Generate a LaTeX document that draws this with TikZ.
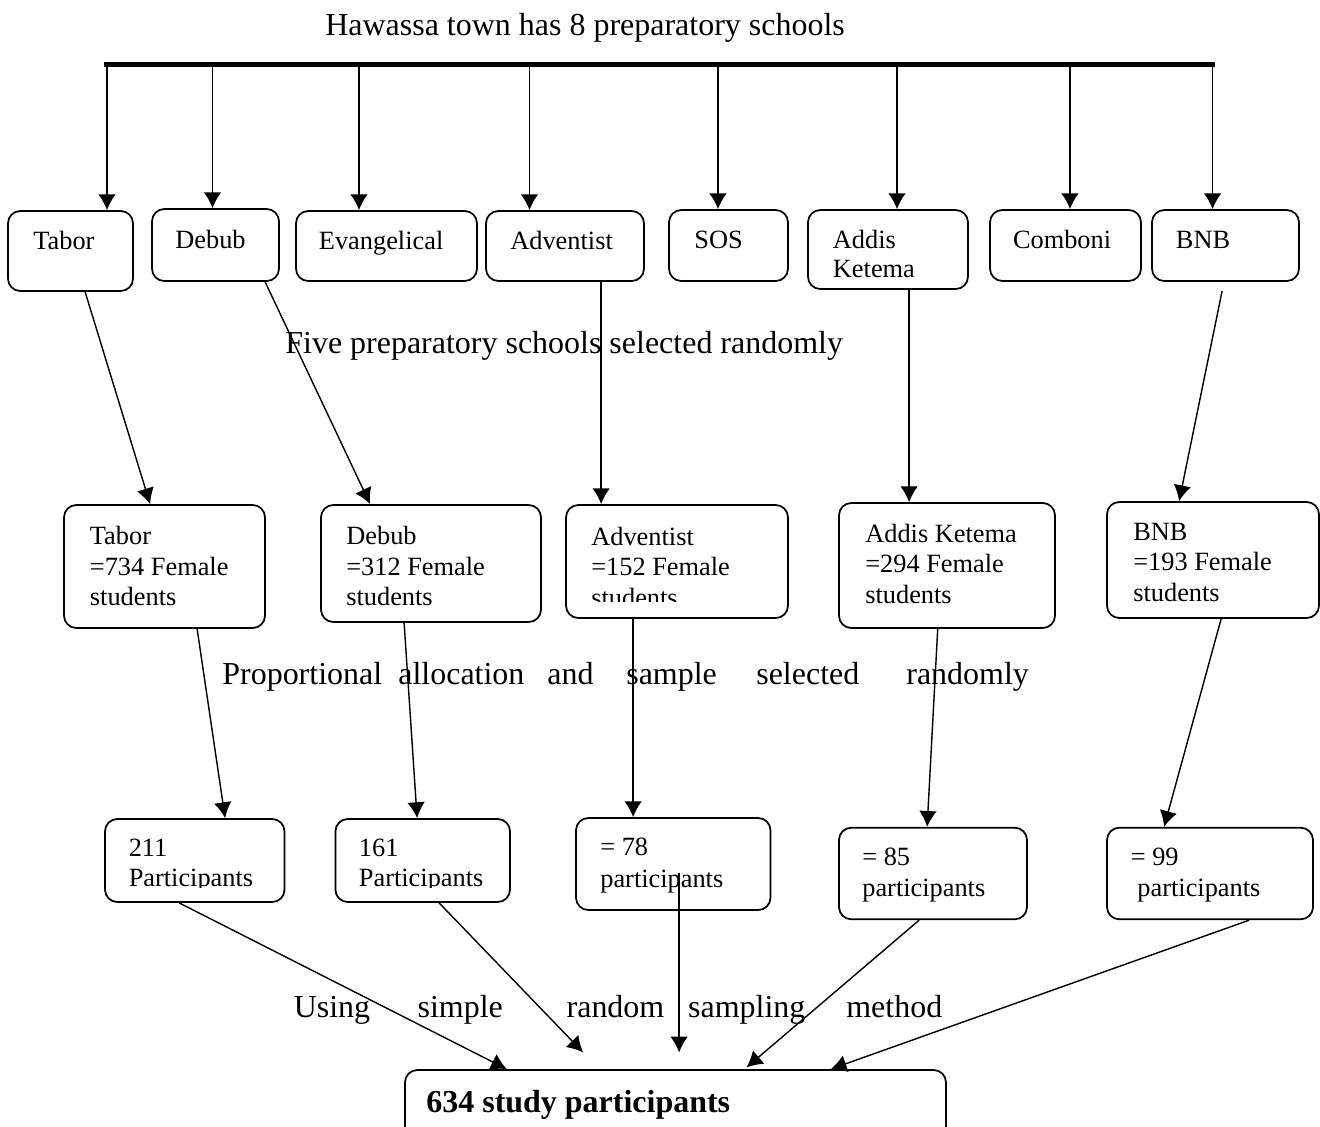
\documentclass[tikz,border=0pt]{standalone}
\usepackage{fontspec}
\setmainfont{Liberation Serif}
\usetikzlibrary{arrows.meta,calc,fit}
\tikzset{>={Latex[length=9pt,width=10pt]}}
\tikzset{
  box/.style={draw, rounded corners=7pt, line width=1pt, inner sep=0pt},
  txt/.style={anchor=base west, align=left, inner sep=0pt, font=\fontsize{15}{17.3}\selectfont},
  hd/.style={anchor=base west, inner sep=0pt, font=\fontsize{18.2}{21}\selectfont},
  link/.style={->, line width=.8pt},
}

\begin{document}
\begin{tikzpicture}[x=.02cm, y=-.02cm]
    \useasboundingbox (0,0) rectangle (1320,1127);
    % heading and bar
    \node[hd] (town) at (325,35) {Hawassa town has 8 preparatory schools};
    \coordinate (barL) at (104,64.5);
    \coordinate (barR) at (1215,64.5);
    \draw[line width=2.8pt] (barL) -- (barR);
    % the eight schools (base of a text = its last line)
    \node[box, fit={(8,211)(133,291)}] (tabor) {};
    \node[box, fit={(152,209)(279,281)}] (debub) {};
    \node[box, fit={(296,211)(477,281)}] (evang) {};
    \node[box, fit={(486,211)(644,281)}] (advent) {};
    \node[box, fit={(669,210)(788,281)}] (sos) {};
    \node[box, fit={(808,210)(968,289)}] (addis) {};
    \node[box, fit={(990,210)(1141,281)}] (comboni) {};
    \node[box, fit={(1152,210)(1299,281)}] (bnb) {};
    \node[txt] (taborT) at (33,249) {Tabor};
    \node[txt] (debubT) at (175,248) {Debub};
    \node[txt] (evangT) at (318.6,249) {Evangelical};
    \node[txt] (adventT) at (510,249) {Adventist};
    \node[txt] (sosT) at (694,248) {SOS};
    \node[txt, font=\fontsize{15}{16.4}\selectfont] (addisT) at (832.6,277) {Addis\\Ketema};
    \node[txt] (comboniT) at (1012.7,248) {Comboni};
    \node[txt] (bnbT) at (1175.6,248) {BNB};
    \foreach \s/\x in {tabor/107, debub/212.5, evang/359, advent/529.5, sos/718, addis/897, comboni/1070, bnb/1212.6}
        \draw[link] (\x,0 |- barL) -- (\x,0 |- \s.north);
    \node[hd] (five) at (285,353) {Five preparatory schools selected randomly};
    % female students per selected school
    \node[box, fit={(64,505)(265,628)}] (taborF) {};
    \node[box, fit={(321,505)(541,622)}] (debubF) {};
    \node[box, fit={(566,505)(788,618)}] (adventF) {};
    \node[box, fit={(839,503)(1055,628)}] (addisF) {};
    \node[box, fit={(1107,502)(1319,618)}] (bnbF) {};
    \node[txt] (taborFT) at (89.6,605.7) {Tabor\\=734 Female\\students};
    \node[txt] (debubFT) at (346,605.7) {Debub\\=312 Female\\students};
    \begin{scope}
        \clip (566,505) rectangle (788,601.7);
        \node[txt] (adventFT) at (591,606) {Adventist\\=152 Female\\students};
    \end{scope}
    \node[txt] (addisFT) at (865,603.3) {Addis Ketema\\=294 Female\\students};
    \node[txt] (bnbFT) at (1133,601) {BNB\\=193 Female\\students};
    \draw[link] ($(tabor.south west)+(78,0)$) -- ($(taborF.north west)+(87,0)$);
    \draw[link] ($(debub.south west)+(114,0)$) -- ($(debubF.north west)+(50,0)$);
    \draw[link] ($(advent.south west)+(116,0)$) -- ($(adventF.north west)+(36,0)$);
    \draw[link] ($(addis.south west)+(102,0)$) -- ($(addisF.north west)+(71,0)$);
    \draw[link] ($(bnb.south west)+(71,9)$) -- ($(bnbF.north west)+(73,0)$);
    \foreach \w/\x [count=\i] in {Proportional/222, allocation/398, and/547, sample/626, selected/756, randomly/906}
        \node[hd] (prop\i) at (\x,684) {\w};
    % participants per school
    \node[box, fit={(105,819)(284.5,902)}] (p211) {};
    \node[box, fit={(335.4,819)(510,902)}] (p161) {};
    \node[box, fit={(576,818)(770.5,910)}] (p78) {};
    \node[box, fit={(839,827.7)(1027,919.3)}] (p85) {};
    \node[box, fit={(1107,827.7)(1313,919.3)}] (p99) {};
    \begin{scope}
        \clip (105,819) rectangle (510,887.5);
        \node[txt, font=\fontsize{15}{16.6}\selectfont] (p211T) at (128.4,886) {211\\Participants};
        \node[txt, font=\fontsize{15}{16.6}\selectfont] (p161T) at (358.6,886) {161\\Participants};
    \end{scope}
    \node[txt, font=\fontsize{15}{18.1}\selectfont] (p78T) at (600,887.3) {= 78\\participants};
    \node[txt, font=\fontsize{15}{17.6}\selectfont] (p85T) at (862,896.7) {= 85\\participants};
    \node[txt, font=\fontsize{15}{17.6}\selectfont] (p99T) at (1130.5,896.7) {= 99\\\ participants};
    \draw[link] ($(taborF.south west)+(134,0)$) -- ($(p211.north west)+(121,0)$);
    \draw[link] ($(debubF.south west)+(84,0)$) -- ($(p161.north west)+(82.6,0)$);
    \draw[link] ($(adventF.south west)+(68,0)$) -- ($(p78.north west)+(58,0)$);
    \draw[link] ($(addisF.south west)+(99.6,0)$) -- ($(p85.north west)+(89,0)$);
    \draw[link] ($(bnbF.south west)+(115,0)$) -- ($(p99.north west)+(58,0)$);
    \foreach \w/\x [count=\i] in {Using/293.4, simple/417.3, random/566.3, sampling/687.8, method/846}
        \node[hd] (srs\i) at (\x,1017) {\w};
    % total
    \node[box, fit={(405,1070)(946,1150)}] (total) {};
    \node[txt, font=\bfseries\fontsize{18.2}{21}\selectfont] (totalT) at (426,1112.7) {634 study participants};
    \draw[link] ($(p211.south west)+(75,0)$) -- ($(total.north west)+(102.7,0)$);
    \draw[link] ($(p161.south west)+(104.6,0)$) -- ($(total.north west)+(179,-16.7)$);
    \draw[link] ($(p78.south west)+(104,-38.3)$) -- ($(total.north west)+(275,-16.7)$);
    \draw[link] ($(p85.south west)+(81,0)$) -- ($(total.north west)+(342.4,-1.7)$);
    \draw[link] ($(p99.south west)+(143,0)$) -- ($(total.north west)+(426.6,0)$);
\end{tikzpicture}
\end{document}
